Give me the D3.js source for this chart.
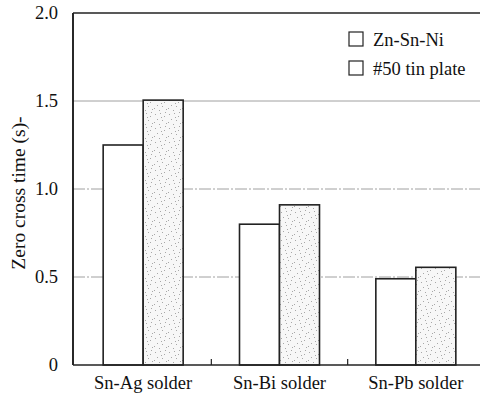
<!DOCTYPE html>
<html><head><meta charset="utf-8">
<script src="https://cdn.jsdelivr.net/npm/d3@7"></script>
<style>body{margin:0;background:#fff}svg{display:block}</style>
</head><body><svg id="c" width="480" height="398"></svg>
<script>
const categories = ["Sn-Ag solder", "Sn-Bi solder", "Sn-Pb solder"];
const seriesNames = ["Zn-Sn-Ni", "#50 tin plate"];
const znSnNi = [1.25, 0.80, 0.49];
const tinPlate = [1.505, 0.91, 0.555];
const yTicks = [0, 0.5, 1.0, 1.5, 2.0];
const yTickLabels = ["0", "0.5", "1.0", "1.5", "2.0"];

const FONT = "'Liberation Serif', 'DejaVu Serif', serif";
const svg = d3.select("#c").attr("font-family", FONT);
const L = 73, R = 484, T = 13, B = 365;
const x = d3.scaleBand().domain(categories).range([L + 2, R]).paddingInner(0).paddingOuter(0);
const y = d3.scaleLinear().domain([0, 2]).range([B, T]);
const barW = 40;

// stipple pattern
const defs = svg.append("defs");
const pat = defs.append("pattern").attr("id","stip").attr("patternUnits","userSpaceOnUse").attr("width",14).attr("height",14);
pat.append("rect").attr("width",14).attr("height",14).attr("fill","#f7f7f7");
const dots = [[1,2],[6,1],[10,4],[3,7],[8,8],[12,11],[5,12],[0,10],[11,0],[7,5]];
pat.selectAll("rect.d").data(dots).join("rect").attr("class","d")
  .attr("x",d=>d[0]).attr("y",d=>d[1]).attr("width",1).attr("height",1).attr("fill","#a8a8a8");

// gridlines
svg.append("g").selectAll("line").data([0.5,1.0,1.5]).join("line")
  .attr("x1", L).attr("x2", 480).attr("y1", d=>y(d)).attr("y2", d=>y(d))
  .attr("stroke", "#888").attr("stroke-width", 0.8)
  .attr("stroke-dasharray", d => d === 1.5 ? null : "12,2,2,2");

// bars
const rows = categories.map((c,i)=>({c, v:[znSnNi[i], tinPlate[i]]}));
const g = svg.append("g");
rows.forEach(r => {
  const cx = x(r.c) + x.bandwidth()/2;
  r.v.forEach((v,j) => {
    g.append("rect")
      .attr("x", cx - barW + j*barW).attr("y", y(v))
      .attr("width", barW).attr("height", y(0) - y(v))
      .attr("fill", j === 0 ? "#fff" : "url(#stip)")
      .attr("stroke", "#222").attr("stroke-width", 1.6);
  });
});

// axes frame
svg.append("line").attr("x1",L).attr("x2",L).attr("y1",T).attr("y2",B).attr("stroke","#111").attr("stroke-width",1.8);
svg.append("line").attr("x1",L).attr("x2",480).attr("y1",T).attr("y2",T).attr("stroke","#222").attr("stroke-width",1.4);
svg.append("line").attr("x1",L).attr("x2",480).attr("y1",B).attr("y2",B).attr("stroke","#222").attr("stroke-width",1.4);

// x minor ticks between groups
svg.append("g").selectAll("line").data(categories.slice(1)).join("line")
  .attr("x1", d=>x(d)).attr("x2", d=>x(d)).attr("y1", B).attr("y2", B-6)
  .attr("stroke","#222").attr("stroke-width",1.2);

// y tick labels
svg.append("g").selectAll("text").data(yTicks).join("text")
  .attr("x", 58).attr("y", d=>y(d)+6).attr("text-anchor","end").attr("font-size",18.5).attr("fill","#111")
  .text((d,i)=>yTickLabels[i]);

// x labels
svg.append("g").selectAll("text").data(categories).join("text")
  .attr("x", d=>x(d)+x.bandwidth()/2).attr("y", 389).attr("text-anchor","middle").attr("font-size",18.5).attr("fill","#111")
  .text(d=>d);

// y label
svg.append("text").attr("transform","translate(25,193) rotate(-90)").attr("text-anchor","middle")
  .attr("font-size",19.5).attr("fill","#111").text("Zero cross time (s)-");

// legend
const lg = svg.append("g");
seriesNames.forEach((s,i) => {
  lg.append("rect").attr("x",349).attr("y",32 + i*29).attr("width",14).attr("height",14)
    .attr("fill","#fff").attr("stroke","#222").attr("stroke-width",1.2);
  lg.append("text").attr("x",373).attr("y",46 + i*29).attr("font-size",18.5).attr("fill","#111").text(s);
});
</script></body></html>
